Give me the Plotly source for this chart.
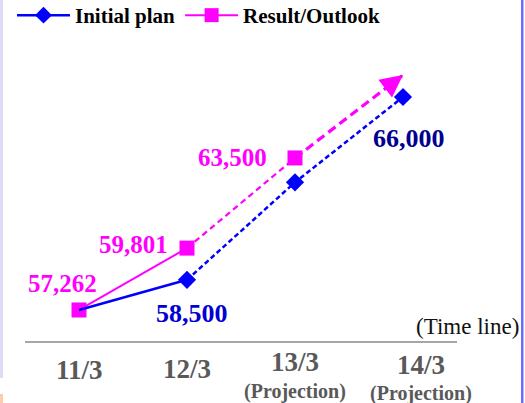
import plotly.graph_objects as go

# Fiscal-year categories (index positions on the x axis)
periods = ["11/3", "12/3", "13/3", "14/3"]
period_notes = ["", "", "(Projection)", "(Projection)"]

# Initial plan: values at 11/3 .. 14/3
plan_x = [0, 1, 2, 3]
plan_values = [57262, 58500, 62500, 66000]

# Result / outlook: values at 11/3 .. 13/3, plus the direction arrow target
result_x = [0, 1, 2]
result_values = [57262, 59801, 63500]
outlook_arrow_x = [2, 3]
outlook_arrow_values = [63500, 66900]

# Which points carry a printed value
plan_labeled = [1, 3]
result_labeled = [0, 1, 2]

W, H = 525, 403
ML, MR, MT, MB = 25, 68, 20, 62
PW, PH = W - ML - MR, H - MT - MB


def px_x(p):
    return (p - ML) / PW


def px_y(p):
    return (H - MB - p) / PH


PINK = "#ff00ff"
BLUE = "#0000ff"
SERIF = "Liberation Serif, Times New Roman, serif"

fig = go.Figure()

# legend entries
fig.add_trace(go.Scatter(
    x=[None], y=[None], name="Initial plan", mode="lines+markers",
    line=dict(color=BLUE, width=2.5),
    marker=dict(symbol="diamond", size=13, color=BLUE)))
fig.add_trace(go.Scatter(
    x=[None], y=[None], name="Result/Outlook", mode="lines+markers",
    line=dict(color=PINK, width=2),
    marker=dict(symbol="square", size=14, color=PINK)))

# Result/Outlook series
fig.add_trace(go.Scatter(
    x=result_x[:2], y=result_values[:2], mode="lines", showlegend=False,
    line=dict(color=PINK, width=2)))
fig.add_trace(go.Scatter(
    x=result_x[1:], y=result_values[1:], mode="lines", showlegend=False,
    line=dict(color=PINK, width=2.2, dash="6px,4px")))
fig.add_trace(go.Scatter(
    x=outlook_arrow_x, y=outlook_arrow_values, mode="lines",
    showlegend=False,
    line=dict(color=PINK, width=3.2, dash="9px,5px", backoff=16)))
fig.add_trace(go.Scatter(
    x=result_x, y=result_values, mode="markers", showlegend=False,
    marker=dict(symbol="square", size=15, color=PINK)))

# Initial plan series
fig.add_trace(go.Scatter(
    x=plan_x[:2], y=plan_values[:2], mode="lines", showlegend=False,
    line=dict(color=BLUE, width=2.5)))
fig.add_trace(go.Scatter(
    x=plan_x[1:], y=plan_values[1:], mode="lines+markers", showlegend=False,
    line=dict(color=BLUE, width=2.5, dash="5px,3px"),
    marker=dict(symbol="diamond", size=14, color=BLUE)))

annotations = []

# arrow head at the end of the outlook line
ax0, ax1 = outlook_arrow_x
ay0, ay1 = outlook_arrow_values
t = 0.85
annotations.append(dict(
    x=ax1, y=ay1, xref="x", yref="y",
    ax=ax0 + (ax1 - ax0) * t, ay=ay0 + (ay1 - ay0) * t,
    axref="x", ayref="y", text="", showarrow=True,
    arrowhead=2, arrowsize=1.4, arrowwidth=3.2, arrowcolor=PINK,
    standoff=0))

# value labels
result_offsets = {0: (-17, 26), 1: (-54, 4), 2: (-63, 0)}
for i in result_labeled:
    dx, dy = result_offsets[i]
    annotations.append(dict(
        x=result_x[i], y=result_values[i], xref="x", yref="y",
        text=f"{result_values[i]:,}", showarrow=False,
        xanchor="center", yanchor="middle", xshift=dx, yshift=dy,
        font=dict(family=SERIF, size=25, color=PINK, weight="bold")))

plan_offsets = {1: (5, -34), 3: (6, -41)}
plan_label_colors = {1: "#0000d0", 3: "#000090"}
for i in plan_labeled:
    dx, dy = plan_offsets[i]
    annotations.append(dict(
        x=plan_x[i], y=plan_values[i], xref="x", yref="y",
        text=f"{plan_values[i]:,}", showarrow=False,
        xanchor="center", yanchor="middle", xshift=dx, yshift=dy,
        font=dict(family=SERIF, size=26, color=plan_label_colors[i],
                  weight="bold")))

# category labels under the time line
tick_shift = [(0, -29), (0, -28), (0, -21), (18, -24)]
note_shift = [None, None, (0, -50), (18, -52)]
for i, lab in enumerate(periods):
    dx, dy = tick_shift[i]
    annotations.append(dict(
        x=i, y=0, xref="x", yref="paper", text=lab, showarrow=False,
        xanchor="center", yanchor="middle", xshift=dx, yshift=dy,
        font=dict(family=SERIF, size=27, color="#595959", weight="bold")))
    if period_notes[i]:
        dx, dy = note_shift[i]
        annotations.append(dict(
            x=i, y=0, xref="x", yref="paper", text=period_notes[i],
            showarrow=False, xanchor="center", yanchor="middle",
            xshift=dx, yshift=dy,
            font=dict(family=SERIF, size=20, color="#595959",
                      weight="bold")))

annotations.append(dict(
    x=px_x(521), y=px_y(326), xref="paper", yref="paper",
    text="(Time line)", showarrow=False, xanchor="right", yanchor="middle",
    font=dict(family=SERIF, size=23, color="#111111")))

shapes = [
    # slide frame pieces
    dict(type="rect", xref="paper", yref="paper",
         x0=px_x(0), x1=px_x(3), y0=px_y(378), y1=px_y(0),
         fillcolor="#dcdcf4", line=dict(width=0), layer="below"),
    dict(type="rect", xref="paper", yref="paper",
         x0=px_x(0), x1=px_x(3), y0=px_y(403), y1=px_y(394),
         fillcolor="#ffcba8", line=dict(width=0), layer="below"),
    dict(type="rect", xref="paper", yref="paper",
         x0=px_x(521), x1=px_x(523.5), y0=px_y(403), y1=px_y(0),
         fillcolor="#6a6aff", line=dict(width=0), layer="below"),
]

fig.update_layout(
    width=W, height=H,
    margin=dict(l=ML, r=MR, t=MT, b=MB, autoexpand=False),
    paper_bgcolor="white", plot_bgcolor="white",
    showlegend=True,
    legend=dict(orientation="h", x=px_x(12), y=px_y(-5),
                xanchor="left", yanchor="top",
                font=dict(family=SERIF, size=21, color="black",
                          weight="bold"),
                itemwidth=53,
                bgcolor="rgba(0,0,0,0)",
                tracegroupgap=0),
    xaxis=dict(range=[-0.5, 3.5], showline=True, linecolor="#a6a6a6",
               linewidth=2, showticklabels=False, showgrid=False,
               zeroline=False, ticks="", fixedrange=True),
    yaxis=dict(range=[55990, 69159], visible=False, fixedrange=True),
    annotations=annotations,
    shapes=shapes,
)

fig.write_html("out.html")
